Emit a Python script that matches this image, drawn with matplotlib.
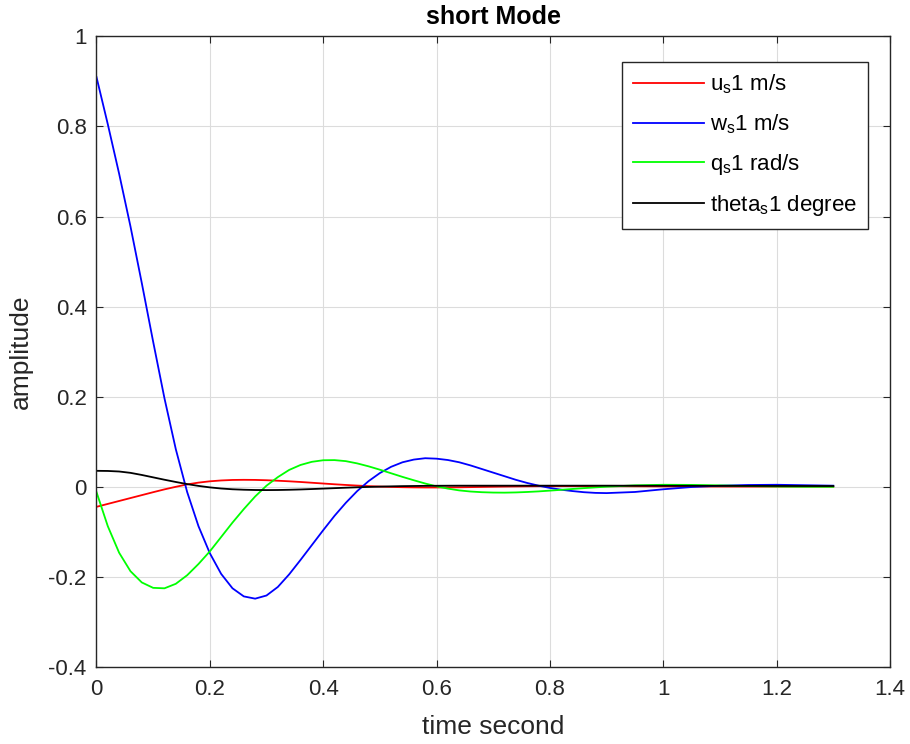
import matplotlib
matplotlib.use("Agg")
import matplotlib.pyplot as plt

plt.rcParams['font.family'] = ['Liberation Sans', 'DejaVu Sans']
plt.rcParams['mathtext.default'] = 'regular'
plt.rcParams['axes.unicode_minus'] = False

# time samples (s)
t = [0.00, 0.02, 0.04, 0.06, 0.08, 0.10, 0.12, 0.14, 0.16, 0.18,
     0.20, 0.22, 0.24, 0.26, 0.28, 0.30, 0.32, 0.34, 0.36, 0.38,
     0.40, 0.42, 0.44, 0.46, 0.48, 0.50, 0.52, 0.54, 0.56, 0.58,
     0.60, 0.62, 0.64, 0.66, 0.68, 0.70, 0.72, 0.74, 0.76, 0.78,
     0.80, 0.82, 0.84, 0.86, 0.88, 0.90, 0.95, 1.00, 1.05, 1.10,
     1.15, 1.20, 1.25, 1.30]

u_s = [-0.045, -0.0385, -0.032, -0.0255, -0.019, -0.0125, -0.0062, -0.0005, 0.0048, 0.0088,
       0.0117, 0.0136, 0.0147, 0.015, 0.0148, 0.0141, 0.013, 0.0117, 0.0102, 0.0085,
       0.0068, 0.0051, 0.0036, 0.0022, 0.001, 0.0, -0.0008, -0.0014, -0.0018, -0.002,
       -0.002, -0.0019, -0.0016, -0.0012, -0.0008, -0.0004, 0.0, 0.0003, 0.0006, 0.0008,
       0.0009, 0.001, 0.001, 0.001, 0.0009, 0.0008, 0.0006, 0.0004, 0.0002, 0.0001,
       0.0, 0.0, 0.0, 0.0]

w_s = [0.91, 0.805, 0.695, 0.578, 0.452, 0.322, 0.196, 0.083, -0.012, -0.088,
       -0.148, -0.194, -0.226, -0.244, -0.249, -0.242, -0.223, -0.195, -0.163, -0.130,
       -0.097, -0.065, -0.036, -0.010, 0.012, 0.030, 0.044, 0.054, 0.060, 0.063,
       0.062, 0.059, 0.054, 0.047, 0.039, 0.031, 0.023, 0.015, 0.008, 0.002,
       -0.003, -0.007, -0.010, -0.0125, -0.014, -0.0145, -0.012, -0.006, -0.001, 0.002,
       0.0035, 0.004, 0.003, 0.002]

q_s = [-0.012, -0.088, -0.147, -0.188, -0.213, -0.225, -0.226, -0.216, -0.197, -0.172,
       -0.144, -0.112, -0.080, -0.050, -0.022, 0.002, 0.021, 0.037, 0.048, 0.055,
       0.0585, 0.0588, 0.0565, 0.0515, 0.045, 0.0375, 0.0295, 0.0215, 0.014, 0.0068,
       0.0005, -0.0045, -0.0085, -0.011, -0.0125, -0.0133, -0.0135, -0.013, -0.012, -0.0107,
       -0.009, -0.0072, -0.0053, -0.0035, -0.0018, -0.0003, 0.0027, 0.004, 0.0037, 0.0026,
       0.0012, 0.0002, -0.0004, -0.0005]

theta_s = [0.035, 0.0347, 0.0335, 0.0305, 0.0258, 0.0205, 0.0152, 0.0102, 0.0055, 0.0015,
           -0.0018, -0.0043, -0.006, -0.007, -0.0076, -0.0078, -0.0076, -0.0071, -0.0064, -0.0055,
           -0.0045, -0.0035, -0.0025, -0.0016, -0.0008, -0.0001, 0.0005, 0.001, 0.0013, 0.0016,
           0.0018, 0.0019, 0.002, 0.002, 0.002, 0.002, 0.002, 0.002, 0.002, 0.002,
           0.002, 0.002, 0.002, 0.002, 0.002, 0.002, 0.0019, 0.0018, 0.0017, 0.0016,
           0.0015, 0.0014, 0.0013, 0.0012]

labels = ['u$_s$1 m/s', 'w$_s$1 m/s', 'q$_s$1 rad/s', 'theta$_s$1 degree']
xticks = [0, 0.2, 0.4, 0.6, 0.8, 1.0, 1.2, 1.4]
xtick_labels = ['0', '0.2', '0.4', '0.6', '0.8', '1', '1.2', '1.4']
yticks = [-0.4, -0.2, 0, 0.2, 0.4, 0.6, 0.8, 1.0]
ytick_labels = ['-0.4', '-0.2', '0', '0.2', '0.4', '0.6', '0.8', '1']

fig = plt.figure(figsize=(9.1, 7.44), dpi=100)
ax = fig.add_axes([0.106, 0.104, 0.872, 0.847])

ax.plot(t, u_s, color='#ff0000', lw=1.3, label=labels[0])
ax.plot(t, w_s, color='#0000ff', lw=1.3, label=labels[1])
ax.plot(t, q_s, color='#00ff00', lw=1.3, label=labels[2])
ax.plot(t, theta_s, color='black', lw=1.3, label=labels[3])

ax.set_xlim(0, 1.4)
ax.set_ylim(-0.4, 1)
ax.set_xticks(xticks, xtick_labels)
ax.set_yticks(yticks, ytick_labels)
ax.grid(True, color='#dcdcdc', lw=0.8)
ax.set_axisbelow(True)
ax.tick_params(direction='in', top=True, right=True, length=5, width=0.8,
               labelsize=16, colors='#262626')
ax.tick_params(axis='x', pad=9)
ax.tick_params(axis='y', pad=7)
for s in ax.spines.values():
    s.set_color('#262626')
    s.set_linewidth(1.0)

ax.set_title('short Mode', fontsize=18, fontweight='bold', pad=9)
ax.set_xlabel('time second', fontsize=19, color='#262626', labelpad=11)
ax.set_ylabel('amplitude', fontsize=19, color='#262626', labelpad=11)

leg = ax.legend(loc='upper right', bbox_to_anchor=(0.972, 0.960), borderaxespad=0,
                fontsize=16, handlelength=3.2, handletextpad=0.25, borderpad=0.5,
                fancybox=False, framealpha=1, edgecolor='#262626', labelspacing=0.72)
leg.get_frame().set_linewidth(1.0)

fig.savefig('out.png', dpi=100, facecolor='white')
